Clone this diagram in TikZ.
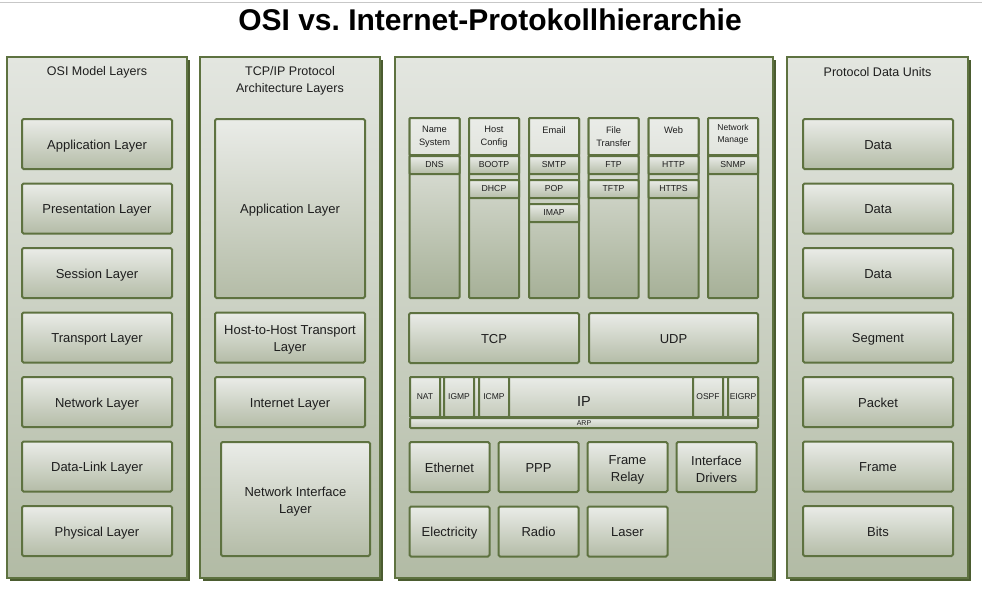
\documentclass[tikz,border=0pt]{standalone}
\usepackage{fontspec}
\setmainfont{Liberation Sans}
\usepackage{xcolor}
\usetikzlibrary{positioning,shadows}

\definecolor{olivedark}{HTML}{5E7240}
\definecolor{olivedeep}{HTML}{4B5C30}
\definecolor{panellight}{HTML}{E3E6E0}
\definecolor{paneldark}{HTML}{B2BBA5}
\definecolor{boxlight}{HTML}{EAECE8}
\definecolor{boxdark}{HTML}{B4BCA7}
\definecolor{coldark}{HTML}{A6B097}
\definecolor{inktext}{HTML}{1E1E1E}
\newcommand{\toprule}{\rule{0pt}{14pt}}

\begin{document}
\begin{tikzpicture}[x=1pt,y=-1pt,node distance=14.5pt,
  panel/.style={rectangle, draw=olivedark, line width=1.5pt, top color=panellight, bottom color=paneldark, minimum width=180pt, minimum height=521pt, outer sep=0pt, drop shadow={shadow xshift=3pt, shadow yshift=-3pt, fill=olivedeep, opacity=1}},
  paneltitle/.style={align=center, text=inktext, font=\fontsize{12.5}{17}\selectfont},
  layerbox/.style={rectangle, draw=olivedark, line width=2pt, rounded corners=1.5pt, top color=boxlight, bottom color=boxdark, minimum width=150pt, minimum height=50pt, align=center, text=inktext, outer sep=0pt, inner sep=1pt, font=\fontsize{13}{17}\selectfont},
  oneline/.style={text height=11pt, text depth=1pt},
  colbox/.style={rectangle, draw=olivedark, line width=2pt, rounded corners=1pt, top color=boxlight, bottom color=coldark, minimum width=50pt, minimum height=180pt, outer sep=0pt},
  hdrbox/.style={rectangle, draw=olivedark, line width=2pt, rounded corners=1pt, top color=boxlight, bottom color=boxlight!85!boxdark, minimum width=50pt, minimum height=37pt, align=center, text=inktext, outer sep=0pt, inner sep=0pt, font=\fontsize{9.3}{13}\selectfont},
  protobox/.style={rectangle, draw=olivedark, line width=2pt, rounded corners=1pt, top color=boxlight, bottom color=boxdark, minimum width=50pt, minimum height=18pt, text=inktext, outer sep=0pt, inner sep=0pt, font=\fontsize{8.7}{10}\selectfont},
  ipbox/.style={rectangle, draw=olivedark, line width=2pt, rounded corners=1pt, top color=boxlight, bottom color=boxdark!70!boxlight, minimum width=30pt, minimum height=40pt, text=inktext, outer sep=0pt, inner sep=0pt, font=\fontsize{8.5}{10}\selectfont}
]
\useasboundingbox (0,0) rectangle (982,594);
\draw[black!22, line width=1pt] (0,2.5) -- (982,2.5);

\node (title) [anchor=base, text=black, font=\fontsize{30}{36}\selectfont\bfseries] at (490,31) {OSI vs.\ Internet-Protokollhierarchie};

\node (osipanel) [panel] at (97,317.5) {};
\node (tcppanel) [panel] at (290,317.5) {};
\node (protopanel) [panel, minimum width=378pt] at (584,317.5) {};
\node (pdupanel) [panel, minimum width=181pt] at (877.5,317.5) {};

\node (osititle) [paneltitle] at (97,72) {OSI Model Layers};
\node (tcptitle) [paneltitle] at (290,80.5) {TCP/IP Protocol\\Architecture Layers};
\node (pdutitle) [paneltitle] at (877.5,72) {Protocol Data Units};

\node (osiapp) [layerbox, oneline] at (97,144) {Application Layer};
\node (osipres) [layerbox, oneline, below=of osiapp] {Presentation Layer};
\node (osisess) [layerbox, oneline, below=of osipres] {Session Layer};
\node (ositrans) [layerbox, oneline, below=of osisess] {Transport Layer};
\node (osinet) [layerbox, oneline, below=of ositrans] {Network Layer};
\node (osilink) [layerbox, oneline, below=of osinet] {Data-Link Layer};
\node (osiphys) [layerbox, oneline, below=of osilink] {Physical Layer};

\node (tcpapp) [layerbox, oneline, minimum height=179pt] at (290,208.5) {Application Layer};
\node (tcphost) [layerbox, below=of tcpapp] {\toprule Host-to-Host Transport\\Layer};
\node (tcpinet) [layerbox, oneline, below=of tcphost] {Internet Layer};
\node (tcpnetif) [layerbox, minimum width=149pt, minimum height=114pt] at (295.5,499) {\toprule Network Interface\\Layer};

\node (pduapp) [layerbox, oneline] at (878,144) {Data};
\node (pdupres) [layerbox, oneline, below=of pduapp] {Data};
\node (pdusess) [layerbox, oneline, below=of pdupres] {Data};
\node (pduseg) [layerbox, oneline, below=of pdusess] {Segment};
\node (pdupacket) [layerbox, oneline, below=of pduseg] {Packet};
\node (pduframe) [layerbox, oneline, below=of pdupacket] {Frame};
\node (pdubits) [layerbox, oneline, below=of pduframe] {Bits};

\node (colname) [colbox] at (434.5,208) {};
\node (colhost) [colbox] at (494,208) {};
\node (colmail) [colbox] at (554,208) {};
\node (colfile) [colbox] at (613.5,208) {};
\node (colweb) [colbox] at (673.5,208) {};
\node (colmgmt) [colbox] at (733,208) {};

\node (hdrname) [hdrbox, anchor=north] at (colname.north) {Name\\System};
\node (hdrhost) [hdrbox, anchor=north] at (colhost.north) {Host\\Config};
\node (hdrmail) [hdrbox, anchor=north] at (colmail.north) {Email\\\mbox{}};
\node (hdrfile) [hdrbox, anchor=north] at (colfile.north) {File\\Transfer};
\node (hdrweb) [hdrbox, anchor=north] at (colweb.north) {Web\\\mbox{}};
\node (hdrmgmt) [hdrbox, anchor=north, font=\fontsize{8.5}{12}\selectfont] at (colmgmt.north) {Network\\Manage\\[-5pt]\mbox{}};

\node (dns) [protobox, below=1pt of hdrname] {DNS};
\node (bootp) [protobox, below=1pt of hdrhost] {BOOTP};
\node (dhcp) [protobox, below=6pt of bootp] {DHCP};
\node (smtp) [protobox, below=1pt of hdrmail] {SMTP};
\node (pop) [protobox, below=6pt of smtp] {POP};
\node (imap) [protobox, below=6pt of pop] {IMAP};
\node (ftp) [protobox, below=1pt of hdrfile] {FTP};
\node (tftp) [protobox, below=6pt of ftp] {TFTP};
\node (http) [protobox, below=1pt of hdrweb] {HTTP};
\node (https) [protobox, below=6pt of http] {HTTPS};
\node (snmp) [protobox, below=1pt of hdrmgmt] {SNMP};

\node (tcp) [layerbox, oneline, minimum width=170pt] at (494,338) {TCP};
\node (udp) [layerbox, oneline, minimum width=169pt] at (673.5,338) {UDP};

\node (ip) [ipbox, minimum width=348pt, label={[text=inktext, font=\fontsize{14.5}{16}\selectfont, yshift=-5pt]center:IP}] at (584,397) {};
\node (nat) [ipbox] at (425,397) {NAT};
\node (igmp) [ipbox] at (459,397) {IGMP};
\node (icmp) [ipbox] at (494,397) {ICMP};
\node (ospf) [ipbox] at (708,397) {OSPF};
\node (eigrp) [ipbox] at (743,397) {EIGRP};
\node (arp) [ipbox, minimum width=348pt, minimum height=10pt, font=\fontsize{7}{7}\selectfont] at (584,423) {ARP};

\node (ethernet) [layerbox, oneline, minimum width=80pt] at (449.5,467) {Ethernet};
\node (ppp) [layerbox, oneline, minimum width=80pt, right=9pt of ethernet] {PPP};
\node (framerelay) [layerbox, minimum width=80pt, right=9pt of ppp] {\toprule Frame\\Relay};
\node (ifdrivers) [layerbox, minimum width=80pt, right=9pt of framerelay] {\toprule Interface\\Drivers};
\node (electricity) [layerbox, oneline, minimum width=80pt, below=of ethernet] {Electricity};
\node (radio) [layerbox, oneline, minimum width=80pt, below=of ppp] {Radio};
\node (laser) [layerbox, oneline, minimum width=80pt, below=of framerelay] {Laser};
\end{tikzpicture}
\end{document}
